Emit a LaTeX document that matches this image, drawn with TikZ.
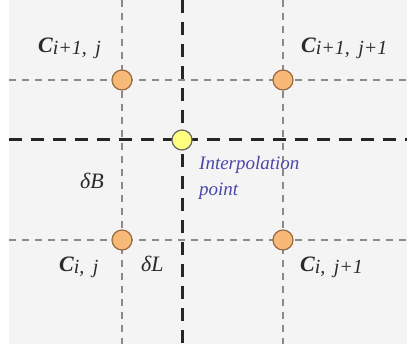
\documentclass[tikz,border=0pt]{standalone}
\usepackage{fontspec}
\setmainfont{Liberation Serif}
\definecolor{bg}{HTML}{F4F4F4}
\definecolor{gridgray}{HTML}{8A8A8A}
\definecolor{txt}{HTML}{2A2A2A}
\definecolor{ptblue}{HTML}{4A48A8}
\definecolor{orangefill}{HTML}{F8B878}
\definecolor{orangeline}{HTML}{9A6A40}
\definecolor{yellowfill}{HTML}{FFFF80}
\newcommand{\subtxt}[1]{\raisebox{-1.5pt}{\fontsize{20}{20}\selectfont\mdseries\textit{#1}}}
\begin{document}
\begin{tikzpicture}[x=1pt,y=-1pt,
  thingrid/.style={draw=gridgray,line width=2.8pt,dash pattern=on 7pt off 6pt},
  thickgrid/.style={draw=black!85,line width=3pt,dash pattern=on 13pt off 9pt},
  cellpt/.style={circle,draw=orangeline,fill=orangefill,line width=1.2pt,minimum size=20pt,inner sep=0pt},
  interp/.style={circle,draw=black!60,fill=yellowfill,line width=1.2pt,minimum size=20pt,inner sep=0pt},
  clabel/.style={anchor=base west,inner sep=0pt,text=txt,font=\fontsize{22}{22}\selectfont\bfseries\itshape},
  dlabel/.style={anchor=base west,inner sep=0pt,text=txt,font=\fontsize{22}{22}\selectfont\itshape},
  blabel/.style={anchor=base west,inner sep=0pt,text=ptblue,font=\fontsize{19}{26}\selectfont\itshape}
]
\useasboundingbox (0,0) rectangle (407,344);
\fill[bg] (9,0) rectangle (407,344);
% grid coordinates
\coordinate (v1t) at (122,0);  \coordinate (v1b) at (122,344);
\coordinate (v2t) at (283,0);  \coordinate (v2b) at (283,344);
\coordinate (vct) at (182,0);  \coordinate (vcb) at (182,344);
\coordinate (h1l) at (9,80);   \coordinate (h1r) at (407,80);
\coordinate (h2l) at (9,240);  \coordinate (h2r) at (407,240);
\coordinate (hcl) at (9,140);  \coordinate (hcr) at (407,140);
\path[thingrid] (v1t) -- (v1b);
\path[thingrid] (v2t) -- (v2b);
\path[thingrid] (h1l) -- (h1r);
\path[thingrid] (h2l) -- (h2r);
\path[thickgrid] (vct) -- (vcb);
\path[thickgrid] (hcl) -- (hcr);
% points
\node[cellpt] (c10) at (122,80) {};
\node[cellpt] (c11) at (283,80) {};
\node[cellpt] (c00) at (122,240) {};
\node[cellpt] (c01) at (283,240) {};
\node[interp] (ip) at (182,140) {};
% labels
\node[clabel] (l10) at (38,53) {C\subtxt{i+1,\, j}};
\node[clabel] (l11) at (301,53) {C\subtxt{i+1,\, j+1}};
\node[clabel] (l00) at (59,272) {C\subtxt{i,\, j}};
\node[clabel] (l01) at (300,272) {C\subtxt{i,\, j+1}};
\node[dlabel] (dB) at (80,189) {δB};
\node[dlabel] (dL) at (141,272) {δL};
\node[blabel,align=left,anchor=north west] (lip) at (199,156) {Interpolation\\point};
\end{tikzpicture}
\end{document}
